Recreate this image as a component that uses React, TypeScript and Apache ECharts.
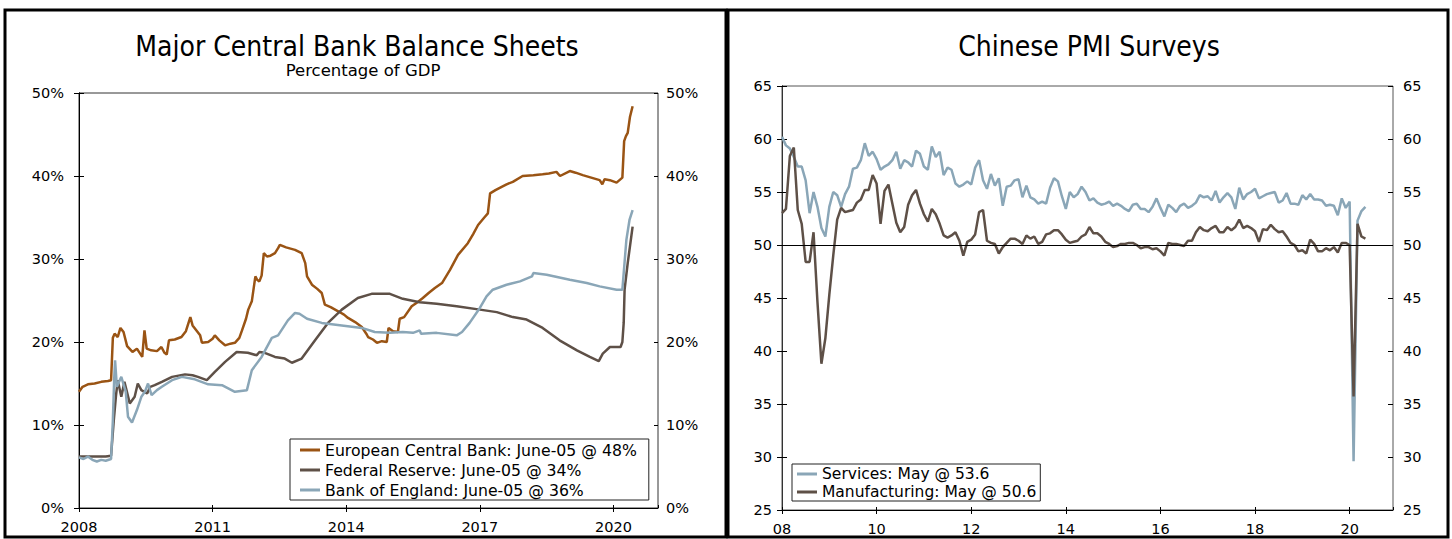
import React, { useEffect, useRef } from "react";
import * as echarts from "echarts";

const FONT = "'DejaVu Sans', Verdana, sans-serif";
const TITLE_FONT = "'DejaVu Sans Condensed', 'DejaVu Sans', sans-serif";

// ---------- Left panel: central bank balance sheets (% of GDP) ----------
const bsStartYear = 2008;
const bsYearLabels = ["2008", "2011", "2014", "2017", "2020"];
const bsNames = [
  "European Central Bank: June-05 @ 48%",
  "Federal Reserve: June-05 @ 34%",
  "Bank of England: June-05 @ 36%",
];

const ecb: [number, number][] = [
  [2008.0, 14.0], [2008.08, 14.6], [2008.2, 14.9], [2008.35, 15.0], [2008.5, 15.2], [2008.65, 15.3],
  [2008.72, 15.4], [2008.76, 20.5], [2008.8, 21.0], [2008.87, 20.6], [2008.93, 21.7], [2009.0, 21.2],
  [2009.08, 19.5], [2009.2, 18.8], [2009.3, 19.2], [2009.42, 18.2], [2009.47, 21.4], [2009.52, 19.2],
  [2009.62, 19.0], [2009.75, 18.9], [2009.85, 19.4], [2009.92, 18.7], [2009.97, 18.5], [2010.02, 20.2],
  [2010.15, 20.3], [2010.3, 20.6], [2010.4, 21.3], [2010.5, 23.0], [2010.55, 22.0], [2010.65, 21.3],
  [2010.72, 20.8], [2010.76, 19.9], [2010.9, 20.0], [2011.0, 20.4], [2011.05, 20.8], [2011.15, 20.2],
  [2011.28, 19.6], [2011.4, 19.8], [2011.5, 19.9], [2011.6, 20.5], [2011.66, 21.4], [2011.75, 22.8],
  [2011.8, 23.9], [2011.88, 24.9], [2011.96, 27.9], [2012.0, 27.5], [2012.05, 27.3], [2012.1, 28.0],
  [2012.15, 30.7], [2012.22, 30.3], [2012.3, 30.4], [2012.4, 30.7], [2012.47, 31.3], [2012.51, 31.7],
  [2012.65, 31.4], [2012.85, 31.1], [2013.0, 30.7], [2013.08, 29.5], [2013.12, 27.9], [2013.23, 26.9],
  [2013.35, 26.4], [2013.45, 25.9], [2013.52, 24.5], [2013.65, 24.2], [2013.82, 23.7], [2013.95, 23.3],
  [2014.04, 22.9], [2014.2, 22.4], [2014.35, 21.8], [2014.45, 21.0], [2014.49, 20.6], [2014.6, 20.3],
  [2014.69, 19.9], [2014.8, 20.1], [2014.91, 20.0], [2014.95, 21.7], [2015.05, 21.3], [2015.16, 21.2],
  [2015.2, 22.8], [2015.3, 23.0], [2015.47, 24.3], [2015.6, 24.8], [2015.72, 25.3], [2015.85, 25.9],
  [2015.99, 26.5], [2016.15, 27.1], [2016.33, 28.7], [2016.51, 30.5], [2016.73, 31.9], [2016.85, 33.0],
  [2016.96, 34.1], [2017.1, 35.0], [2017.18, 35.5], [2017.23, 37.9], [2017.35, 38.3], [2017.49, 38.7],
  [2017.6, 39.0], [2017.74, 39.3], [2017.96, 40.0], [2018.2, 40.1], [2018.41, 40.2], [2018.55, 40.3],
  [2018.72, 40.5], [2018.8, 40.0], [2019.02, 40.6], [2019.15, 40.4], [2019.31, 40.1], [2019.5, 39.8],
  [2019.69, 39.5], [2019.75, 39.0], [2019.8, 39.6], [2019.92, 39.5], [2020.07, 39.2], [2020.2, 39.8],
  [2020.24, 44.2], [2020.28, 44.8], [2020.32, 45.2], [2020.37, 47.1], [2020.43, 48.4],
];

const fed: [number, number][] = [
  [2008.0, 6.2], [2008.3, 6.2], [2008.6, 6.2], [2008.72, 6.3], [2008.78, 10.5], [2008.83, 13.5],
  [2008.87, 15.4], [2008.95, 13.4], [2009.02, 15.2], [2009.14, 12.6], [2009.25, 13.4], [2009.32, 15.0],
  [2009.4, 14.2], [2009.53, 13.8], [2009.6, 14.6], [2009.7, 14.8], [2009.86, 15.2], [2010.09, 15.8],
  [2010.38, 16.1], [2010.55, 16.0], [2010.67, 15.8], [2010.87, 15.4], [2011.05, 16.4], [2011.28, 17.6],
  [2011.54, 18.8], [2011.79, 18.7], [2011.99, 18.4], [2012.05, 18.8], [2012.17, 18.7], [2012.4, 18.2],
  [2012.62, 18.0], [2012.78, 17.5], [2013.0, 18.0], [2013.3, 20.2], [2013.59, 22.3], [2013.9, 23.9],
  [2014.26, 25.3], [2014.57, 25.8], [2014.98, 25.8], [2015.27, 25.2], [2015.65, 24.8], [2016.03, 24.6],
  [2016.48, 24.3], [2017.0, 23.9], [2017.38, 23.6], [2017.74, 23.0], [2018.05, 22.7], [2018.41, 21.7],
  [2018.79, 20.2], [2019.18, 19.0], [2019.47, 18.2], [2019.67, 17.7], [2019.76, 18.6], [2019.92, 19.4],
  [2020.16, 19.4], [2020.2, 20.0], [2020.23, 22.3], [2020.25, 26.3], [2020.32, 29.5], [2020.43, 33.9],
];

const boe: [number, number][] = [
  [2008.0, 6.1], [2008.1, 5.9], [2008.2, 6.2], [2008.3, 5.8], [2008.4, 5.6], [2008.5, 5.8],
  [2008.6, 5.7], [2008.72, 5.9], [2008.76, 10.5], [2008.79, 15.5], [2008.81, 17.8], [2008.85, 14.6],
  [2008.95, 15.8], [2009.05, 14.0], [2009.1, 11.0], [2009.19, 10.3], [2009.3, 11.8], [2009.4, 13.4],
  [2009.48, 14.0], [2009.55, 15.0], [2009.63, 13.6], [2009.75, 14.2], [2009.86, 14.6], [2010.09, 15.4],
  [2010.31, 15.8], [2010.6, 15.5], [2010.9, 14.9], [2011.21, 14.8], [2011.5, 14.0], [2011.77, 14.2],
  [2011.88, 16.6], [2012.1, 18.2], [2012.33, 20.5], [2012.47, 20.8], [2012.69, 22.6], [2012.85, 23.5],
  [2012.95, 23.4], [2013.12, 22.8], [2013.45, 22.3], [2013.9, 22.0], [2014.35, 21.7], [2014.64, 21.2],
  [2014.98, 21.1], [2015.27, 21.2], [2015.5, 21.1], [2015.65, 21.4], [2015.68, 21.0], [2016.03, 21.1],
  [2016.48, 20.8], [2016.6, 21.2], [2016.77, 22.3], [2017.0, 24.1], [2017.15, 25.5], [2017.29, 26.3],
  [2017.6, 26.9], [2017.9, 27.3], [2018.17, 27.9], [2018.2, 28.3], [2018.5, 28.1], [2019.02, 27.5],
  [2019.4, 27.1], [2019.69, 26.7], [2020.07, 26.3], [2020.2, 26.3], [2020.29, 32.3], [2020.36, 34.7],
  [2020.43, 35.9],
];

// ---------- Right panel: Chinese PMI (monthly from Jan 2008) ----------
const pmiYearLabels = ["08", "10", "12", "14", "16", "18", "20"];
const pmiNames = ["Services: May @ 53.6", "Manufacturing: May @ 50.6"];

const services: number[] = [
  60.2, 59.4, 59.1, 58.3, 57.4, 57.4, 56.1, 53.0, 55.0, 53.6, 51.6, 50.8,
  53.6, 55.0, 54.7, 53.6, 54.8, 55.5, 57.2, 57.3, 58.0, 59.6, 58.4, 58.8,
  58.1, 57.1, 57.4, 57.6, 58.0, 58.8, 57.2, 58.0, 57.8, 57.4, 58.9, 58.6,
  57.4, 57.1, 59.3, 58.3, 58.8, 56.6, 57.3, 57.1, 55.8, 55.5, 55.7, 56.0,
  55.7, 57.3, 58.0, 56.1, 55.3, 56.7, 55.6, 56.3, 53.7, 55.5, 55.6, 56.1,
  56.2, 54.5, 55.6, 54.5, 54.3, 53.9, 54.1, 53.9, 55.4, 56.3, 56.0, 54.6,
  53.4, 55.0, 54.5, 54.8, 55.5, 55.0, 54.2, 54.4, 54.0, 53.8, 53.9, 54.1,
  53.7, 53.9, 53.7, 53.4, 53.2, 53.8, 53.9, 53.4, 53.4, 53.1, 53.6, 54.4,
  53.5, 52.7, 53.8, 53.5, 53.1, 53.7, 53.9, 53.5, 53.7, 54.0, 54.7, 54.5,
  54.6, 54.2, 55.1, 54.0, 54.5, 54.9, 54.5, 53.4, 55.4, 54.3, 54.8, 55.0,
  55.3, 54.4, 54.6, 54.8, 54.9, 55.0, 54.0, 54.2, 54.9, 53.9, 53.9, 53.8,
  54.7, 54.3, 54.8, 54.3, 54.3, 54.2, 53.7, 53.8, 53.7, 52.8, 54.4, 53.5,
  54.1, 29.6, 52.3, 53.2, 53.6,
];

const manufacturing: number[] = [
  53.0, 53.4, 58.4, 59.2, 53.3, 52.0, 48.4, 48.4, 51.2, 44.6, 38.8, 41.2,
  45.3, 49.0, 52.4, 53.5, 53.1, 53.2, 53.3, 54.0, 54.3, 55.2, 55.2, 56.6,
  55.8, 52.0, 55.1, 55.7, 53.9, 52.1, 51.2, 51.7, 53.8, 54.7, 55.2, 53.9,
  52.9, 52.2, 53.4, 52.9, 52.0, 50.9, 50.7, 50.9, 51.2, 50.4, 49.0, 50.3,
  50.5, 51.0, 53.1, 53.3, 50.4, 50.2, 50.1, 49.2, 49.8, 50.2, 50.6, 50.6,
  50.4, 50.1, 50.9, 50.6, 50.8, 50.1, 50.3, 51.0, 51.1, 51.4, 51.4, 51.0,
  50.5, 50.2, 50.3, 50.4, 50.8, 51.0, 51.7, 51.1, 51.1, 50.8, 50.3, 50.1,
  49.8, 49.9, 50.1, 50.1, 50.2, 50.2, 50.0, 49.7, 49.8, 49.8, 49.6, 49.7,
  49.4, 49.0, 50.2, 50.1, 50.1, 50.0, 49.9, 50.4, 50.4, 51.2, 51.7, 51.4,
  51.3, 51.6, 51.8, 51.2, 51.2, 51.7, 51.4, 51.7, 52.4, 51.6, 51.8, 51.6,
  51.3, 50.3, 51.5, 51.4, 51.9, 51.5, 51.2, 51.3, 50.8, 50.2, 50.0, 49.4,
  49.5, 49.2, 50.5, 50.1, 49.4, 49.4, 49.7, 49.5, 49.8, 49.3, 50.2, 50.2,
  50.0, 35.7, 52.0, 50.8, 50.6,
];

const C_ECB = "#9a5414";
const C_FED = "#5e5047";
const C_BOE = "#8aa6b7";
const C_SERV = "#8aa6b7";
const C_MANU = "#5e5047";

const labelStyle = { fontFamily: FONT, fontSize: 14.5, color: "#000" };

function lineSeries(name: string, color: string, data: any[], xi: number, yi: number, width = 2.5) {
  return {
    name,
    type: "line",
    xAxisIndex: xi,
    yAxisIndex: yi,
    data,
    symbol: "none",
    showSymbol: false,
    itemStyle: { color },
    lineStyle: { color, width },
    emphasis: { disabled: true },
  } as any;
}

export default function App() {
  const ref = useRef<HTMLDivElement>(null);

  useEffect(() => {
    if (!ref.current) return;
    const chart = echarts.init(ref.current, undefined, { renderer: "svg" });

    const bsXFormatter = (v: number) => (v % 3 === 0 && v / 3 < bsYearLabels.length ? bsYearLabels[v / 3] : "");
    const pmiXFormatter = (v: number) => (v % 24 === 0 && v / 24 < pmiYearLabels.length ? pmiYearLabels[v / 24] : "");

    const axisLine = { show: true, lineStyle: { color: "#000", width: 1 } };
    const noLine = { show: false };

    const option: any = {
      animation: false,
      backgroundColor: "#fff",
      grid: [
        { left: 79, top: 93, width: 579, height: 415, show: true, borderColor: "#333", borderWidth: 1, backgroundColor: "transparent" },
        { left: 782, top: 86, width: 611, height: 424, show: true, borderColor: "#555", borderWidth: 1, backgroundColor: "transparent" },
      ],
      xAxis: [
        {
          type: "value", gridIndex: 0, min: 0, max: 13, interval: 3, position: "bottom",
          axisLine, axisTick: { show: true, length: 4, lineStyle: { color: "#000" } },
          axisLabel: { ...labelStyle, margin: 11, formatter: bsXFormatter, showMaxLabel: false },
          splitLine: { show: false },
        },
        {
          type: "value", gridIndex: 0, min: 0, max: 13, interval: 3, position: "bottom",
          axisLine: noLine, axisTick: { show: true, inside: true, length: 3, lineStyle: { color: "#000" } },
          axisLabel: { show: false }, splitLine: { show: false },
        },
        {
          type: "value", gridIndex: 1, min: 0, max: 155, interval: 24, position: "bottom",
          axisLine, axisTick: { show: true, length: 4, lineStyle: { color: "#000" } },
          axisLabel: { ...labelStyle, margin: 11, formatter: pmiXFormatter, showMaxLabel: false },
          splitLine: { show: false },
        },
        {
          type: "value", gridIndex: 1, min: 0, max: 155, interval: 24, position: "bottom",
          axisLine: noLine, axisTick: { show: true, inside: true, length: 3, lineStyle: { color: "#000" } },
          axisLabel: { show: false }, splitLine: { show: false },
        },
      ],
      yAxis: [
        {
          type: "value", gridIndex: 0, min: 0, max: 50, interval: 10, position: "left",
          axisLine, axisTick: { show: true, length: 5, lineStyle: { color: "#000" } },
          axisLabel: { ...labelStyle, margin: 15, formatter: "{value}%" }, splitLine: { show: false },
        },
        {
          type: "value", gridIndex: 0, min: 0, max: 50, interval: 10, position: "right",
          axisLine, axisTick: { show: true, length: 5, lineStyle: { color: "#000" } },
          axisLabel: { ...labelStyle, margin: 8, formatter: "{value}%" }, splitLine: { show: false },
        },
        {
          type: "value", gridIndex: 1, min: 25, max: 65, interval: 5, position: "left",
          axisLine, axisTick: { show: true, length: 5, lineStyle: { color: "#000" } },
          axisLabel: { ...labelStyle, margin: 10 }, splitLine: { show: false },
        },
        {
          type: "value", gridIndex: 1, min: 25, max: 65, interval: 5, position: "right",
          axisLine: { show: true, lineStyle: { color: "#333", width: 1 } }, axisTick: { show: true, length: 5, lineStyle: { color: "#000" } },
          axisLabel: { ...labelStyle, margin: 10 }, splitLine: { show: false },
        },
        {
          type: "value", gridIndex: 0, min: 0, max: 50, interval: 10, position: "right",
          axisLine: noLine, axisTick: { show: true, inside: true, length: 4, lineStyle: { color: "#000" } },
          axisLabel: { show: false }, splitLine: { show: false },
        },
        {
          type: "value", gridIndex: 1, min: 25, max: 65, interval: 5, position: "left",
          axisLine: noLine, axisTick: { show: true, inside: true, length: 5, lineStyle: { color: "#000" } },
          axisLabel: { show: false }, splitLine: { show: false },
        },
        {
          type: "value", gridIndex: 1, min: 25, max: 65, interval: 5, position: "right",
          axisLine: noLine, axisTick: { show: true, inside: true, length: 5, lineStyle: { color: "#000" } },
          axisLabel: { show: false }, splitLine: { show: false },
        },
      ],
      legend: [
        {
          data: bsNames, left: 290, top: 439, orient: "vertical", icon: "rect",
          itemWidth: 20, itemHeight: 3, itemGap: 4, padding: [3, 12, 2, 10],
          borderColor: "#222", borderWidth: 1, selectedMode: false,
          textStyle: { fontFamily: FONT, fontSize: 15.7, color: "#000", lineHeight: 16 },
        },
        {
          data: pmiNames, left: 792, top: 464, orient: "vertical", icon: "rect",
          itemWidth: 20, itemHeight: 3, itemGap: 2, padding: [2, 4, 1, 5],
          borderColor: "#222", borderWidth: 1, selectedMode: false,
          textStyle: { fontFamily: FONT, fontSize: 15.5, color: "#000", lineHeight: 15 },
        },
      ],
      graphic: [
        { type: "rect", shape: { x: 5, y: 10, width: 721, height: 527 }, style: { fill: "none", stroke: "#000", lineWidth: 3 }, silent: true },
        { type: "rect", shape: { x: 728, y: 10, width: 720, height: 527 }, style: { fill: "none", stroke: "#000", lineWidth: 3 }, silent: true },
        {
          type: "text", x: 357, y: 46,
          style: { text: "Major Central Bank Balance Sheets", fontFamily: TITLE_FONT, fontSize: 28, fill: "#000", align: "center", verticalAlign: "middle", textAlign: "center", textVerticalAlign: "middle" },
        },
        {
          type: "text", x: 363, y: 70,
          style: { text: "Percentage of GDP", fontFamily: FONT, fontSize: 16.5, fill: "#000", align: "center", verticalAlign: "middle", textAlign: "center", textVerticalAlign: "middle" },
        },
        {
          type: "text", x: 1089, y: 46,
          style: { text: "Chinese PMI Surveys", fontFamily: TITLE_FONT, fontSize: 28, fill: "#000", align: "center", verticalAlign: "middle", textAlign: "center", textVerticalAlign: "middle" },
        },
      ],
      series: [
        lineSeries(bsNames[0], C_ECB, ecb.map(([y, v]) => [y - bsStartYear, v]), 0, 0),
        lineSeries(bsNames[1], C_FED, fed.map(([y, v]) => [y - bsStartYear, v]), 0, 0),
        lineSeries(bsNames[2], C_BOE, boe.map(([y, v]) => [y - bsStartYear, v]), 0, 0),
        {
          ...lineSeries(pmiNames[0], C_SERV, services.map((v, i) => [i, v]), 2, 2),
          markLine: {
            silent: true, symbol: "none", label: { show: false },
            lineStyle: { color: "#000", width: 1, type: "solid" },
            data: [{ yAxis: 50 }],
          },
        },
        lineSeries(pmiNames[1], C_MANU, manufacturing.map((v, i) => [i, v]), 2, 2),
      ],
    };

    chart.setOption(option);
    return () => chart.dispose();
  }, []);

  return (
    <div
      ref={ref}
      style={{ position: "fixed", left: 0, top: 0, width: 1452, height: 539, background: "#fff" }}
    />
  );
}
